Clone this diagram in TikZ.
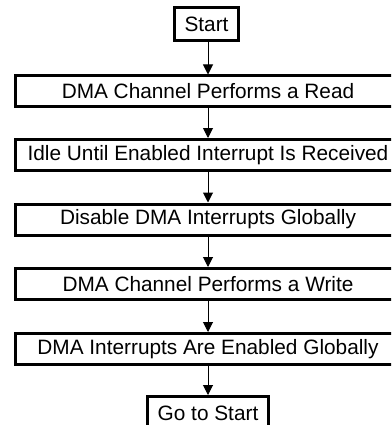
\documentclass[tikz,border=0pt]{standalone}
\usepackage{fontspec}
\setmainfont{Liberation Sans}
\usetikzlibrary{positioning,arrows.meta}

\begin{document}
\begin{tikzpicture}[
  x=1pt, y=1pt,
  every node/.style={font=\fontsize{20.8}{24}\selectfont},
  stepbox/.style={draw, line width=3pt, inner sep=0pt, minimum width=385pt, minimum height=31pt},
  termbox/.style={draw, line width=3pt, inner sep=0pt, minimum height=33pt},
  flow/.style={-{Triangle[width=10pt,length=10pt]}, line width=1pt}
]
\useasboundingbox (0,0) rectangle (391,-425);
\clip (0,0) rectangle (391,-425);
\node[termbox, minimum width=64pt] (start) at (206.5,-24) {Start};
\node[stepbox] (read) at (208,-91.5) {DMA Channel Performs a Read};
\node[stepbox] (idle) at (208,-155) {Idle Until Enabled Interrupt Is Received};
\node[stepbox] (disable) at (208,-219.5) {Disable DMA Interrupts Globally};
\node[stepbox] (write) at (208,-284) {DMA Channel Performs a Write};
\node[stepbox] (enable) at (208,-349) {DMA Interrupts Are Enabled Globally};
\node[termbox, minimum width=121pt] (goto) at (208,-413) {Go to Start};
% connectors
\draw[flow] (start.south -| read.north) -- (read.north);
\draw[flow] (read.south) -- (idle.north);
\draw[flow] (idle.south) -- (disable.north);
\draw[flow] (disable.south) -- (write.north);
\draw[flow] (write.south) -- (enable.north);
\draw[flow] (enable.south) -- (goto.north);
\end{tikzpicture}
\end{document}
